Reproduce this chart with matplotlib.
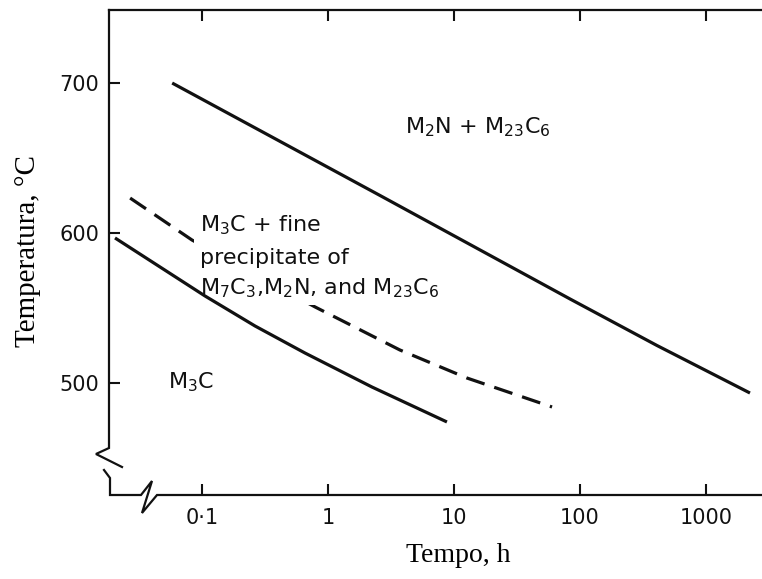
import numpy as np
import matplotlib.pyplot as plt
from matplotlib.ticker import FixedLocator, FixedFormatter, NullLocator

# values (time in h, temperature in degC)
upper_t = [0.058, 2.59, 83.4, 408, 2234]
upper_T = [700, 625, 556, 525, 493.3]

dashed_t = [0.0269, 0.0834, 0.789, 3.72, 12.68, 60]
dashed_T = [623.3, 595.3, 550.7, 522, 503.3, 484]

lower_t = [0.0204, 0.1057, 0.2636, 0.656, 2.234, 8.79]
lower_T = [596.7, 558, 538, 520, 497.3, 474]

x_ticks = [0.1, 1, 10, 100, 1000]
x_tick_labels = ['0·1', '1', '10', '100', '1000']
y_ticks = [500, 600, 700]

W, H = 762, 579
fig = plt.figure(figsize=(W / 100, H / 100), dpi=100)
L, R, T, B = 109, 762, 10, 495
ax = fig.add_axes([L / W, 1 - B / H, (R - L) / W, (B - T) / H])

ink = '#111111'
ax.plot(upper_t, upper_T, color=ink, lw=2.3, solid_capstyle='butt', zorder=4)
ax.plot(lower_t, lower_T, color=ink, lw=2.3, solid_capstyle='butt', zorder=4)
ax.plot(dashed_t, dashed_T, color=ink, lw=2.3, dashes=(6, 3.2), zorder=1)

ax.set_xscale('log')
ax.set_xlim(0.01828, 2783)
ax.set_ylim(425.3, 748.7)

ax.xaxis.set_major_locator(FixedLocator(x_ticks))
ax.xaxis.set_major_formatter(FixedFormatter(x_tick_labels))
ax.xaxis.set_minor_locator(NullLocator())
ax.set_yticks(y_ticks)
ax.tick_params(direction='in', length=8, width=1.5, color=ink,
               labelsize=15, labelcolor=ink, top=True, pad=7)
ax.tick_params(axis='x', pad=9)

for s in ['left', 'bottom', 'right']:
    ax.spines[s].set_visible(False)
ax.spines['top'].set_linewidth(1.6)
ax.spines['top'].set_color(ink)


# axis lines with break marks, given in pixels of the picture
def px(points):
    xs = [(p[0] - L) / (R - L) for p in points]
    ys = [(B - p[1]) / (B - T) for p in points]
    return xs, ys


axis_parts = [
    [(109, 10), (109, 448), (96, 454), (122, 467)],
    [(104, 470), (110, 478), (110, 495), (141, 495), (152, 481),
     (142, 513), (157, 495), (762, 495)],
]
for part in axis_parts:
    xs, ys = px(part)
    ax.plot(xs, ys, transform=ax.transAxes, color=ink, lw=1.6,
            clip_on=False, solid_joinstyle='miter')

fs = 16
box = dict(facecolor='white', edgecolor='none', pad=4)
ax.text(4.08, 670.7, r'M$_2$N + M$_{23}$C$_6$', fontsize=fs, color=ink,
        ha='left', va='center')
ax.text(0.0964, 605.3, r'M$_3$C + fine', fontsize=fs, color=ink,
        ha='left', va='center', bbox=box, zorder=3)
ax.text(0.0964, 583.3, 'precipitate of', fontsize=fs, color=ink,
        ha='left', va='center', bbox=box, zorder=3)
ax.text(0.0964, 563.3, r'M$_7$C$_3$,M$_2$N, and M$_{23}$C$_6$', fontsize=fs,
        color=ink, ha='left', va='center', bbox=box, zorder=3)
ax.text(0.0537, 500.7, r'M$_3$C', fontsize=fs, color=ink,
        ha='left', va='center')

fig.text(28 / W, 1 - 251 / H, 'Temperatura, °C', rotation=90,
         family='Liberation Serif', fontsize=21, ha='center', va='center')
fig.text(458 / W, 1 - 555 / H, 'Tempo, h', family='Liberation Serif',
         fontsize=20, ha='center', va='center')

fig.savefig('out.png', dpi=100)
